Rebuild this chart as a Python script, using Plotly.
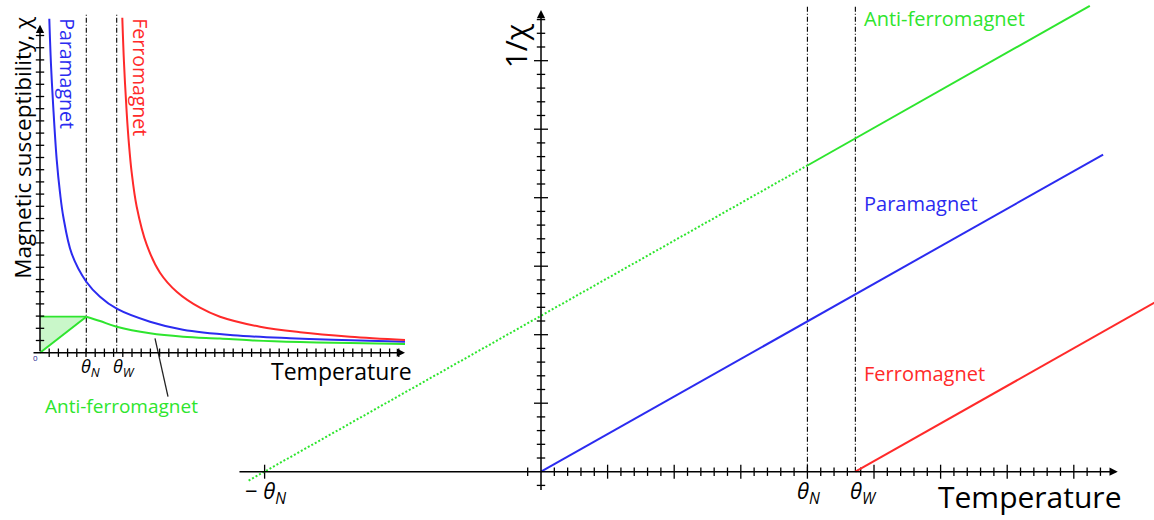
import plotly.graph_objects as go

# ---------------- colours / fonts ----------------
BLUE = "#2b2bf0"
RED = "#ff2a2a"
GREEN = "#2ee52e"
FONT = "Open Sans"

# ---------------- left panel: chi(T), arbitrary units ----------------
L_THETA_N = 4.63
L_THETA_W = 7.67

para_T = [0.93, 1.1, 1.33, 1.67, 2.0, 2.33, 3.17, 4.63, 6.0, 7.67, 11.0, 14.3, 19.3, 25.0, 29.3, 36.5]
para_chi = [33.4, 28.8, 24.5, 19.3, 16.0, 13.6, 9.9, 7.1, 5.6, 4.4, 3.1, 2.3, 1.75, 1.45, 1.3, 1.1]

ferro_T = [8.23, 8.4, 8.67, 8.9, 9.17, 9.67, 10.67, 12.0, 13.67, 16.0, 18.0, 22.0, 26.0, 31.0, 36.5]
ferro_chi = [33.5, 29.0, 24.0, 20.8, 18.0, 14.6, 10.8, 8.0, 6.1, 4.5, 3.6, 2.6, 2.05, 1.6, 1.27]

afm_rise_T = [0.0, 4.63]
afm_rise_chi = [0.0, 3.6]
afm_fall_T = [4.63, 6.0, 7.67, 11.0, 14.3, 18.0, 21.0, 26.0, 31.0, 36.5]
afm_fall_chi = [3.6, 3.17, 2.6, 1.94, 1.6, 1.42, 1.24, 1.07, 0.97, 0.87]

# ---------------- right panel: 1/chi(T) ----------------
R_THETA_N = 4.0
R_THETA_W = 4.72
R_NEG_THETA_N = -4.15

para_line_T = [0.0, 8.44]
para_line_inv = [0.0, 4.63]
ferro_line_T = [4.72, 9.25]
ferro_line_inv = [0.0, 2.49]
afm_dotted_T = [-4.39, 4.0]
afm_dotted_inv = [-0.13, 4.47]
afm_solid_T = [4.0, 8.24]
afm_solid_inv = [4.47, 6.80]

# tick layouts
L_XTICK_STEP, L_XTICK_N = 0.92, 39
L_YTICK_STEP, L_YTICK_N = 1.22, 26
R_MINOR_STEP = 0.2
R_XMINOR_N = 42
R_YMINOR_N = 33

fig = go.Figure()

# axis pairs: (x, y) for the left inset, (x2, y2) for the main plot
LX = dict(xaxis="x", yaxis="y")
RX = dict(xaxis="x2", yaxis="y2")


def line(x, y, color, width=2.0, dash=None, shape="linear", ax=LX, **kw):
    fig.add_trace(go.Scatter(x=x, y=y, mode="lines",
                             line=dict(color=color, width=width, dash=dash, shape=shape),
                             hoverinfo="skip", showlegend=False, **ax, **kw))


def ticks(x, y, symbol, size, ax):
    fig.add_trace(go.Scatter(x=x, y=y, mode="markers",
                             marker=dict(symbol=symbol, size=size,
                                         line=dict(color="black", width=1.3)),
                             hoverinfo="skip", showlegend=False, **ax))


DASHDOT = "5px,2px,1px,2px"

# ---- left inset ----
chi_top = afm_rise_chi[1]
fig.add_trace(go.Scatter(x=[0, 0, L_THETA_N, 0], y=[0, chi_top, chi_top, 0], mode="lines",
                         fill="toself", fillcolor="rgba(60,225,60,0.28)",
                         line=dict(color="rgba(0,0,0,0)", width=0),
                         hoverinfo="skip", showlegend=False, **LX))
line([0, L_THETA_N], [chi_top, chi_top], GREEN, 1.8)

for th in (L_THETA_N, L_THETA_W):
    line([th, th], [0, 33.8], "black", 1.1, dash=DASHDOT)

lx_ticks = [L_XTICK_STEP * i for i in range(1, L_XTICK_N + 1)]
ly_ticks = [L_YTICK_STEP * i for i in range(1, L_YTICK_N + 1)]
ticks(lx_ticks, [0] * len(lx_ticks), "line-ns", 6, LX)
ticks([0] * len(ly_ticks), ly_ticks, "line-ew", 6, LX)

line(para_T, para_chi, BLUE, 2.0, shape="spline")
line(ferro_T, ferro_chi, RED, 2.0, shape="spline")
line(afm_rise_T, afm_rise_chi, GREEN, 2.0)
line(afm_fall_T, afm_fall_chi, GREEN, 2.0, shape="spline")

# ---- right main plot ----
for th in (R_THETA_N, R_THETA_W):
    line([th, th], [0, 6.81], "black", 1.1, dash=DASHDOT, ax=RX)

rx_minor = [R_MINOR_STEP * i for i in range(-1, R_XMINOR_N + 1) if i != 0 and i % 5 != 0]
rx_major = [float(i) for i in range(1, 9)] + [R_NEG_THETA_N]
ry_minor = [R_MINOR_STEP * i for i in range(-1, R_YMINOR_N + 1) if i != 0 and i % 5 != 0]
ry_major = [float(i) for i in range(1, 7)]
ticks(rx_minor, [0] * len(rx_minor), "line-ns", 6, RX)
ticks(rx_major, [0] * len(rx_major), "line-ns", 10, RX)
ticks([0] * len(ry_minor), ry_minor, "line-ew", 6, RX)
ticks([0] * len(ry_major), ry_major, "line-ew", 10, RX)

line(afm_dotted_T, afm_dotted_inv, GREEN, 2.0, dash="2px,2px", ax=RX)
line(afm_solid_T, afm_solid_inv, GREEN, 2.0, ax=RX)
line(para_line_T, para_line_inv, BLUE, 2.0, ax=RX)
line(ferro_line_T, ferro_line_inv, RED, 2.0, ax=RX)

annotations = []


def arrow(x0, y0, x1, y1, xr, yr):
    annotations.append(dict(x=x1, y=y1, ax=x0, ay=y0, xref=xr, yref=yr, axref=xr, ayref=yr,
                            text="", showarrow=True, arrowhead=2, arrowsize=1.1,
                            arrowwidth=1.5, arrowcolor="black"))


arrow(-0.8, 0, 36.5, 0, "x", "y")
arrow(0, 0, 0, 32.8, "x", "y")
arrow(-4.55, 0, 8.66, 0, "x2", "y2")
arrow(0, -0.29, 0, 6.74, "x2", "y2")


def text(s, x, y, xr, yr, size, color="black", angle=0, xanchor="center", yanchor="middle"):
    annotations.append(dict(text=s, x=x, y=y, xref=xr, yref=yr, showarrow=False,
                            textangle=angle, xanchor=xanchor, yanchor=yanchor,
                            font=dict(family=FONT, size=size, color=color)))


# left labels
text("Magnetic susceptibility, χ", -1.7, 20.5, "x", "y", 22.5, angle=-90)
text("Paramagnet", 2.75, 27.9, "x", "y", 19.5, BLUE, angle=90)
text("Ferromagnet", 10.05, 27.6, "x", "y", 19.5, RED, angle=90)
text("<i>θ</i><sub><i>N</i></sub>", L_THETA_N + 0.4, -1.5, "x", "y", 18)
text("<i>θ</i><sub><i>W</i></sub>", L_THETA_W + 0.7, -1.5, "x", "y", 18)
text("Temperature", 30.1, -1.8, "x", "y", 23)
text("Anti-ferromagnet", 8.1, -5.3, "x", "y", 19, GREEN)
text("0", -0.5, -0.5, "x", "y", 8, "#1a1a90")
# pointer from the label to the antiferromagnet curve
line([12.8, 11.5], [-4.4, 1.44], "#222222", 1.3)

# right labels
text("1/χ", -0.38, 6.22, "x2", "y2", 30, angle=-90)
text("Anti-ferromagnet", 4.82, 6.62, "x2", "y2", 20, GREEN, xanchor="left")
text("Paramagnet", 4.82, 3.91, "x2", "y2", 20, BLUE, xanchor="left")
text("Ferromagnet", 4.82, 1.43, "x2", "y2", 20, RED, xanchor="left")
text("<i>θ</i><sub><i>N</i></sub>", 4.01, -0.30, "x2", "y2", 22)
text("<i>θ</i><sub><i>W</i></sub>", 4.84, -0.30, "x2", "y2", 22)
text("− <i>θ</i><sub><i>N</i></sub>", -4.13, -0.30, "x2", "y2", 22)
text("Temperature", 7.33, -0.355, "x2", "y2", 30)

hidden = dict(visible=False, domain=[0, 1], fixedrange=True)
fig.update_layout(
    width=1154, height=520,
    margin=dict(l=0, r=0, t=0, b=0),
    paper_bgcolor="white", plot_bgcolor="rgba(0,0,0,0)",
    xaxis=dict(hidden, range=[-4.0, 111.4], anchor="y"),
    yaxis=dict(hidden, range=[-16.73, 35.27], anchor="x"),
    xaxis2=dict(hidden, range=[-8.123, 9.204], anchor="y2"),
    yaxis2=dict(hidden, range=[-0.705, 6.886], anchor="x2"),
    annotations=annotations,
    showlegend=False,
)

fig.write_html("out.html")
